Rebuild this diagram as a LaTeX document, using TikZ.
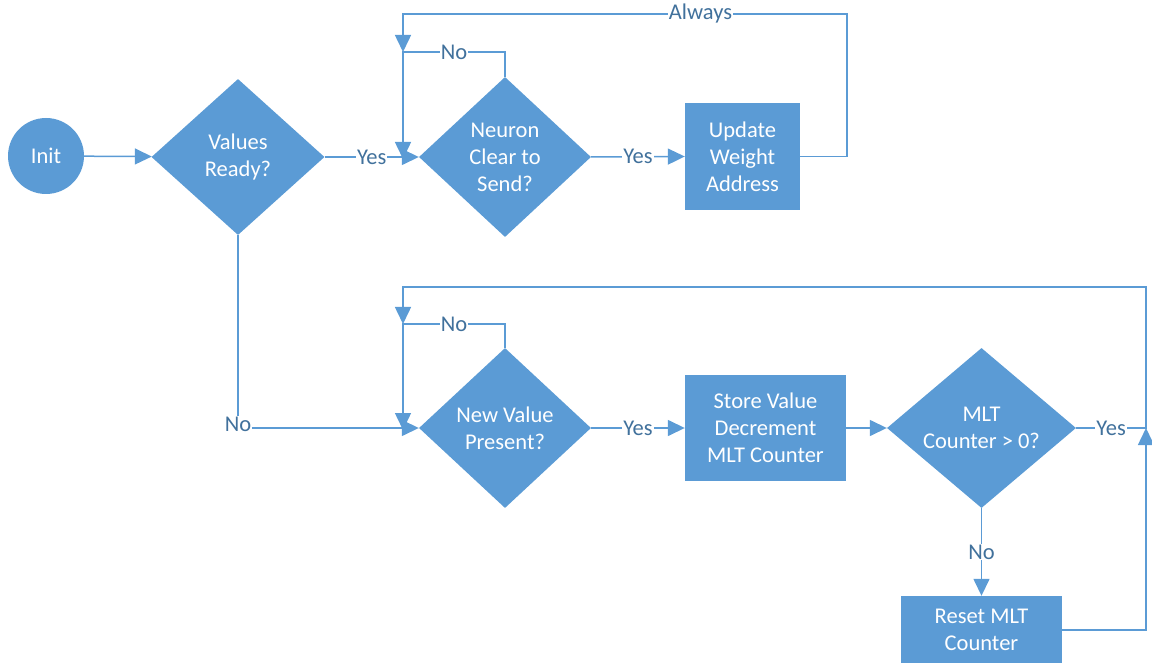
\documentclass[tikz,border=0pt]{standalone}
\usepackage{fontspec}
\setmainfont{Carlito}
\usetikzlibrary{shapes.geometric,arrows.meta}
\definecolor{boxblue}{HTML}{5B9BD5}
\definecolor{lblblue}{HTML}{41719C}

\begin{document}
\begin{tikzpicture}[x=1pt,y=-1pt,
  every node/.style={font=\fontsize{22.5}{27}\selectfont},
  proc/.style={rectangle, fill=boxblue, text=white, align=center, inner sep=0pt},
  decide/.style={diamond, fill=boxblue, text=white, align=center, inner sep=0pt},
  startnode/.style={circle, fill=boxblue, text=white, inner sep=0pt},
  flow/.style={draw=boxblue, line width=1.5pt},
  arr/.style={flow, -{Triangle[length=17pt,width=16pt]}},
  lbl/.style={fill=white, text=lblblue, inner sep=1pt}]

\useasboundingbox (0,0) rectangle (1152,663);

% --- nodes ---
\node[startnode, minimum size=76pt] (init) at (46,156) {Init};
\node[decide, minimum width=173pt, minimum height=156pt] (ready) at (238,157) {Values\\Ready?};
\node[decide, minimum width=172pt, minimum height=160pt] (clear) at (505,157) {Neuron\\Clear to\\Send?};
\node[proc, minimum width=115pt, minimum height=107pt] (upd) at (742.5,156.5) {Update\\Weight\\Address};

\node[decide, minimum width=172pt, minimum height=160pt] (newv) at (505,428) {New Value\\Present?};
\node[proc, minimum width=161pt, minimum height=106pt] (store) at (765.5,428) {Store Value\\Decrement\\MLT Counter};
\node[decide, minimum width=189pt, minimum height=160pt] (mlt) at (981.5,428) {MLT\\Counter > 0?};
\node[proc, minimum width=161pt, minimum height=68pt] (reset) at (981.5,630) {Reset MLT\\Counter};

% loop junctions
\coordinate (j1) at (403,52);
\coordinate (j2) at (403,324);

% --- connectors: upper loop ---
\draw[arr] (init) -- (ready);
\draw[arr] (ready.east) -- node[lbl]{Yes} (clear.west);
\draw[arr] (clear.east) -- node[lbl]{Yes} (upd.west);
\draw[arr] (upd.east) -- (847,156.5) -- (847,14) -- node[lbl,pos=0.33]{Always} (403,14) -- (j1);
\draw[arr] (clear.north) -- (505,52) -- node[lbl]{No} (j1) -- (403,159);

% --- connectors: lower loop ---
\draw[arr] (ready.south) -- (238,428) node[lbl,yshift=4pt]{No} -- (newv.west);
\draw[arr] (newv.north) -- (505,324) -- node[lbl]{No} (j2) -- (403,430);
\draw[arr] (newv.east) -- node[lbl]{Yes} (store.west);
\draw[arr] (store.east) -- (mlt.west);
\draw[arr] (mlt.south) -- node[lbl]{No} (reset.north);
\draw[arr] (reset.east) -- (1146,630) -- (1146,428);
\draw[arr] (mlt.east) -- node[lbl]{Yes} (1146,428) -- (1146,287) -- (403,287) -- (j2);
\end{tikzpicture}
\end{document}
